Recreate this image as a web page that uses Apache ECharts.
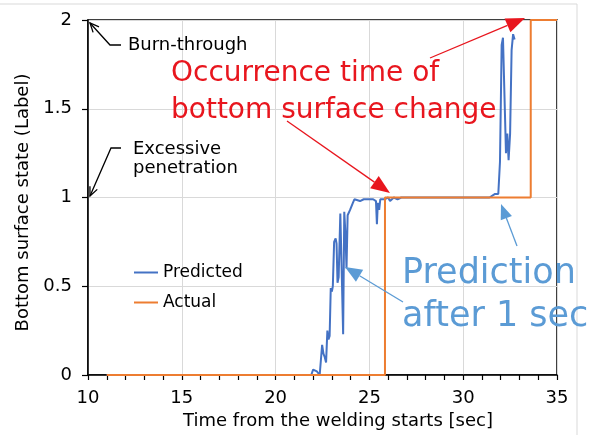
<!DOCTYPE html>
<html>
<head>
<meta charset="utf-8">
<script src="https://cdn.jsdelivr.net/npm/echarts@6/dist/echarts.min.js"></script>
<style>html,body{margin:0;padding:0;background:#fff;}#c{width:610px;height:435px;}</style>
</head>
<body>
<div id="c"></div>
<script>
// ---- data ----
const predTimes = [11, 21.9, 22.0, 22.1, 22.2, 22.35, 22.42, 22.48, 22.55, 22.62, 22.69, 22.76, 22.82, 22.88, 22.94, 23.0, 23.05, 23.12, 23.2, 23.25, 23.3, 23.36, 23.45, 23.52, 23.6, 23.66, 23.72, 23.78, 23.84, 23.9, 23.97, 24.05, 24.12, 24.2, 24.3, 24.5, 24.7, 24.9, 25.0, 25.2, 25.35, 25.4, 25.45, 25.52, 25.58, 25.65, 25.8, 25.9, 26.0, 26.1, 26.2, 26.3, 26.5, 26.7, 27.0, 31.4, 31.7, 31.87, 31.96, 32.05, 32.12, 32.2, 32.28, 32.35, 32.42, 32.5, 32.58, 32.66, 32.74];
const predValues = [0, 0, 0.03, 0.04, 0.02, 0, 0.01, 0.17, 0.12, 0.1, 0.07, 0.25, 0.2, 0.22, 0.49, 0.47, 0.5, 0.75, 0.77, 0.74, 0.52, 0.55, 0.91, 0.6, 0.23, 0.92, 0.8, 0.6, 0.9, 0.91, 0.93, 0.93, 0.97, 0.99, 0.99, 0.98, 0.99, 0.99, 0.98, 0.99, 0.98, 0.85, 0.97, 0.93, 0.99, 1.0, 0.99, 0.99, 1.0, 0.98, 0.99, 1.0, 0.99, 1.0, 1.0, 1.0, 1.02, 1.02, 1.2, 1.86, 1.9, 1.9, 1.25, 1.36, 1.21, 1.36, 1.83, 1.92, 1.89];
const actualTimes = [11, 25.83, 25.83, 33.6, 33.6, 35];
const actualValues = [0, 0, 1, 1, 2, 2];
const xTicks = [10, 15, 20, 25, 30, 35];
const yTicks = [0, 0.5, 1, 1.5, 2];

const zip = (a, b) => a.map((v, i) => [v, b[i]]);

const FONT = 'DejaVu Sans';
const RED = '#e8161e';
const BLUE_T = '#5b9bd5';

// arrow helper (pixel-space annotation)
function arrow(pts, color, lw, hl, hw, filled) {
  const n = pts.length;
  const [x1, y1] = pts[n - 2], [x2, y2] = pts[n - 1];
  const a = Math.atan2(y2 - y1, x2 - x1);
  const bx = x2 - hl * Math.cos(a), by = y2 - hl * Math.sin(a);
  const px = -Math.sin(a) * hw / 2, py = Math.cos(a) * hw / 2;
  const linePts = pts.slice(0, n - 1).concat([filled ? [bx, by] : [x2, y2]]);
  const els = [{ type: 'polyline', shape: { points: linePts }, style: { stroke: color, lineWidth: lw, fill: null }, z: 100 }];
  if (filled) {
    els.push({ type: 'polygon', shape: { points: [[x2, y2], [bx + px, by + py], [bx - px, by - py]] }, style: { fill: color }, z: 100 });
  } else {
    els.push({ type: 'polyline', shape: { points: [[bx + px, by + py], [x2, y2], [bx - px, by - py]] }, style: { stroke: color, lineWidth: lw, fill: null }, z: 100 });
  }
  return els;
}

const graphics = [].concat(
  [{ type: 'rect', shape: { x: -2, y: 4, width: 579, height: 440 }, style: { stroke: '#d9d9d9', fill: null, lineWidth: 1 }, z: -10 }],
  arrow([[121, 45], [110, 45], [90, 23]], '#000', 1.3, 9, 8, false),
  arrow([[121, 148], [111, 148], [90, 196]], '#000', 1.3, 9, 8, false),
  arrow([[430, 58], [525, 18]], RED, 1.3, 19, 15, true),
  arrow([[287, 121], [390, 193]], RED, 1.3, 19, 15, true),
  arrow([[403, 302], [345, 267]], BLUE_T, 1.3, 17, 14, true),
  arrow([[517, 246], [501, 204]], BLUE_T, 1.3, 15, 12, true),
  [
    { type: 'text', left: 128, top: 36, style: { text: 'Burn-through', font: '18px "DejaVu Sans"', fill: '#000' }, z: 100 },
    { type: 'text', left: 133, top: 140, style: { text: 'Excessive\npenetration', font: '18px "DejaVu Sans"', lineHeight: 19, fill: '#000' }, z: 100 },
    { type: 'text', left: 171, top: 55, style: { text: 'Occurrence time of\nbottom surface change', font: '28px "DejaVu Sans"', lineHeight: 37, fill: RED }, z: 100 },
    { type: 'text', left: 402, top: 252, style: { text: 'Prediction\nafter 1 sec', font: '35px "DejaVu Sans"', lineHeight: 43, fill: BLUE_T }, z: 100 }
  ]
);

const chart = echarts.init(document.getElementById('c'), null, { renderer: 'canvas' });
chart.setOption({
  animation: false,
  backgroundColor: '#fff',
  textStyle: { fontFamily: FONT },
  grid: { left: 88, right: 53, top: 20, bottom: 60, show: true, borderColor: '#000', borderWidth: 1.5, containLabel: false },
  legend: {
    left: 129, top: 259, orient: 'vertical', icon: 'rect', itemWidth: 24, itemHeight: 2, itemGap: 13,
    textStyle: { fontSize: 17, color: '#000', fontFamily: FONT },
    data: ['Predicted', 'Actual']
  },
  xAxis: {
    type: 'value', min: xTicks[0], max: xTicks[xTicks.length - 1], interval: 5,
    name: 'Time from the welding starts [sec]', nameLocation: 'middle', nameGap: 36,
    nameTextStyle: { fontSize: 18, color: '#000', fontFamily: FONT, padding: [0, 0, 0, 31] },
    axisLine: { lineStyle: { color: '#000', width: 1.5 } },
    axisTick: { show: true, length: 5, lineStyle: { color: '#000', width: 1.2 } },
    minorTick: { show: true, splitNumber: 5, length: 5, lineStyle: { color: '#000', width: 1.2 } },
    axisLabel: { fontSize: 18, color: '#000', margin: 14, fontFamily: FONT },
    splitLine: { show: true, lineStyle: { color: '#d9d9d9', width: 1 } }
  },
  yAxis: {
    type: 'value', min: yTicks[0], max: yTicks[yTicks.length - 1], interval: 0.5,
    name: 'Bottom surface state (Label)', nameLocation: 'middle', nameGap: 56, nameRotate: 90,
    nameTextStyle: { fontSize: 18, color: '#000', fontFamily: FONT, padding: [0, 10, 0, 0] },
    axisLine: { show: true, lineStyle: { color: '#000', width: 1.5 } },
    axisTick: { show: true, length: 6, lineStyle: { color: '#000', width: 1.2 } },
    axisLabel: { fontSize: 18, color: '#000', margin: 16, fontFamily: FONT },
    splitLine: { show: true, lineStyle: { color: '#d9d9d9', width: 1 } }
  },
  series: [
    { name: 'Predicted', type: 'line', data: zip(predTimes, predValues), symbol: 'none', color: '#4472c4', lineStyle: { width: 2, color: '#4472c4' }, z: 3 },
    { name: 'Actual', type: 'line', data: zip(actualTimes, actualValues), symbol: 'none', color: '#ed7d31', lineStyle: { width: 2, color: '#ed7d31' }, z: 4 }
  ],
  graphic: graphics
});
</script>
</body>
</html>
